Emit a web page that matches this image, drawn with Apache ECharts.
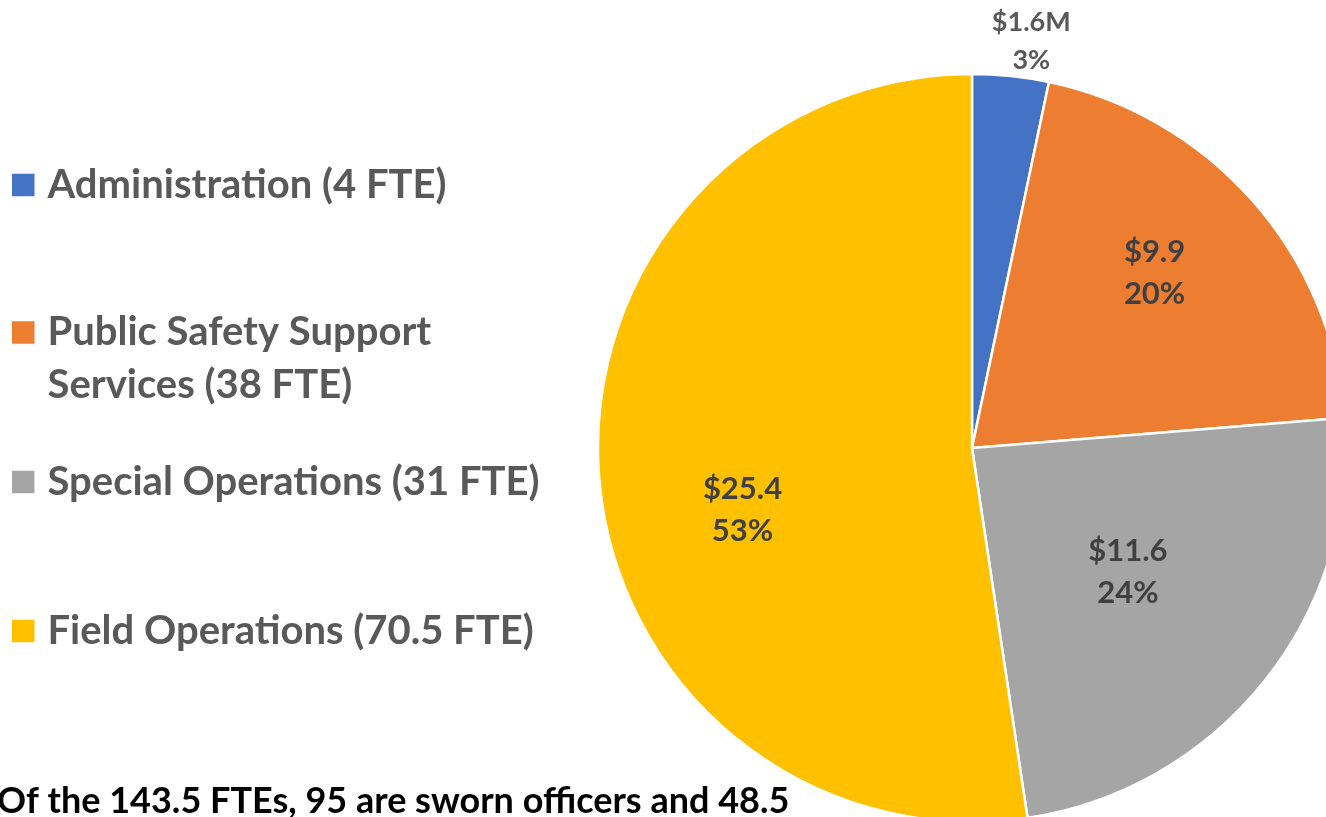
<!DOCTYPE html>
<html>
<head>
<meta charset="utf-8">
<script src="https://cdn.jsdelivr.net/npm/echarts@6/dist/echarts.min.js"></script>
<style>
  html, body { margin: 0; padding: 0; background: #fff; }
  #chart { width: 1326px; height: 817px; }
</style>
</head>
<body>
<div id="chart"></div>
<script>
// budget by division, $M
const categories = ['Administration (4 FTE)', 'Public Safety Support\nServices (38 FTE)', 'Special Operations (31 FTE)', 'Field Operations (70.5 FTE)'];
const values = [1.6, 9.9, 11.6, 25.4];
const valueLabels = ['$1.6M', '$9.9', '$11.6', '$25.4'];
const pctLabels = ['3%', '20%', '24%', '53%'];
const colors = ['#4472C4', '#ED7D31', '#A5A5A5', '#FFC000'];

const FONT = 'Lato';

// label nudges (excel "best fit" placement)
const labelShift = [
  [12, 0],
  [40, -49],
  [7, 6],
  [-40, 48]
];

const legendTops = [162, 253, 459, 608];

let chart = echarts.init(document.getElementById('chart'));

let legends = categories.map(function (name, i) {
  let twoLines = name.indexOf('\n') >= 0;
  return {
    orient: 'vertical',
    left: 12,
    top: legendTops[i],
    padding: 0,
    data: [name],
    icon: 'rect',
    itemWidth: 22.5,
    itemHeight: 22.5,
    itemStyle: { borderWidth: 0 },
    selectedMode: false,
    // blank first line keeps the marker level with the first text line
    formatter: twoLines ? function (n) { return ' \n' + n; } : '{name}',
    textStyle: {
      fontFamily: FONT,
      fontWeight: 'bold',
      fontSize: 40,
      color: '#595959',
      lineHeight: twoLines ? 53 : 46,
      padding: [0, 0, 0, 8]
    }
  };
});

let option = {
  animation: false,
  color: colors,
  title: {
    text: 'Of the 143.5 FTEs, 95 are sworn officers and 48.5',
    left: -3,
    top: 783,
    padding: 0,
    textStyle: {
      fontFamily: FONT,
      fontWeight: 'bold',
      fontSize: 36,
      lineHeight: 36,
      color: '#000'
    }
  },
  legend: legends,
  series: [{
    type: 'pie',
    center: [972, 448],
    radius: 374,
    startAngle: 90,
    clockwise: true,
    avoidLabelOverlap: false,
    itemStyle: { borderColor: '#fff', borderWidth: 2.5 },
    label: {
      show: true,
      position: 'inside',
      fontFamily: FONT,
      fontWeight: 'bold',
      fontSize: 31,
      lineHeight: 42,
      color: '#404040',
      formatter: function (p) {
        if (p.dataIndex === 0) {
          return '{s|' + valueLabels[0] + '}\n{s|' + pctLabels[0] + '}';
        }
        return valueLabels[p.dataIndex] + '\n' + pctLabels[p.dataIndex];
      },
      rich: {
        s: {
          fontFamily: FONT,
          fontWeight: 'bold',
          fontSize: 27,
          lineHeight: 38,
          color: '#595959'
        }
      }
    },
    labelLine: { show: false, length: 35, length2: 0 },
    labelLayout: function (p) {
      let s = labelShift[p.dataIndex];
      let out = { dx: s[0], dy: s[1] };
      if (p.dataIndex === 0) out.align = 'center';
      return out;
    },
    data: categories.map(function (name, i) {
      let d = { name: name, value: values[i] };
      if (i === 0) {
        d.label = { position: 'outside' };
        d.labelLine = { show: false };
      }
      return d;
    })
  }]
};

chart.setOption(option);
</script>
</body>
</html>
